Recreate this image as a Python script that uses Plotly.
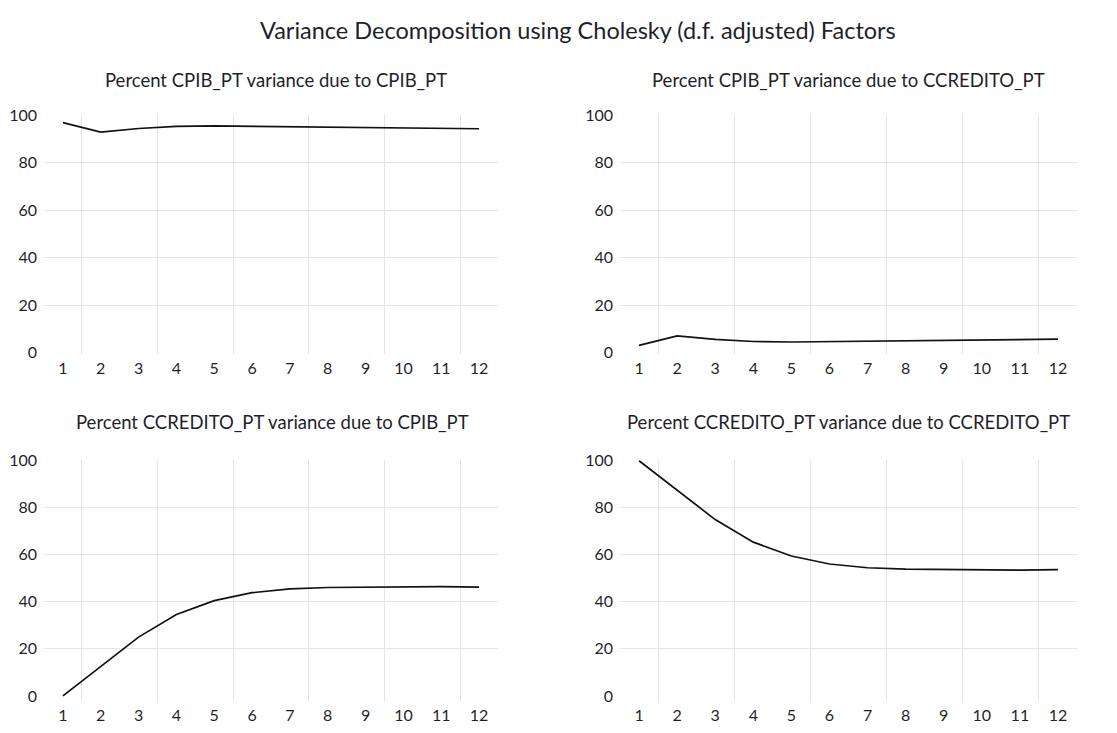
import plotly.graph_objects as go

periods = [1, 2, 3, 4, 5, 6, 7, 8, 9, 10, 11, 12]
tick_labels = [str(p) for p in periods]

cpib_due_cpib = [97.0, 93.0, 94.5, 95.4, 95.6, 95.4, 95.1, 94.9, 94.7, 94.6, 94.5, 94.4]
cpib_due_ccredito = [3.0, 7.0, 5.5, 4.6, 4.4, 4.6, 4.9, 5.1, 5.3, 5.4, 5.5, 5.6]
ccredito_due_cpib = [0.0, 12.5, 25.0, 34.6, 40.5, 43.9, 45.5, 46.1, 46.3, 46.4, 46.5, 46.3]
ccredito_due_ccredito = [100.0, 87.5, 75.0, 65.4, 59.5, 56.1, 54.5, 53.9, 53.7, 53.6, 53.5, 53.7]

panel_titles = [
    "Percent CPIB_PT variance due to CPIB_PT",
    "Percent CPIB_PT variance due to CCREDITO_PT",
    "Percent CCREDITO_PT variance due to CPIB_PT",
    "Percent CCREDITO_PT variance due to CCREDITO_PT",
]
main_title = "Variance Decomposition using Cholesky (d.f. adjusted) Factors"

W, H = 1117, 733
FONT = "Lato, 'Open Sans', sans-serif"
TXT = "#1f1f2b"
GRID = "#e4e4e4"

def px_x(a, b):
    return [a / W, b / W]

def px_y(top, bottom):
    return [1 - bottom / H, 1 - top / H]

panels = [
    (cpib_due_cpib, px_x(44, 498), px_y(107, 352), [-0.6, 100.4]),
    (cpib_due_ccredito, px_x(620, 1077), px_y(107, 352), [-0.6, 100.4]),
    (ccredito_due_cpib, px_x(44, 498), px_y(461, 707), [-2.0, 100.2]),
    (ccredito_due_ccredito, px_x(620, 1077), px_y(461, 707), [-2.0, 100.2]),
]

fig = go.Figure()
layout = {}
for i, (vals, xd, yd, yr) in enumerate(panels, start=1):
    xa = "x" if i == 1 else f"x{i}"
    ya = "y" if i == 1 else f"y{i}"
    fig.add_trace(go.Scatter(x=periods, y=vals, mode="lines",
                             line=dict(color="#111111", width=1.7),
                             xaxis=xa, yaxis=ya, showlegend=False,
                             hoverinfo="x+y"))
    layout[f"xaxis{'' if i == 1 else i}"] = dict(
        domain=xd, anchor=ya, range=[0.5, 12.5],
        tickmode="array", tickvals=periods, ticktext=tick_labels,
        showgrid=False, zeroline=False, showline=False, ticks="",
        ticklabelstandoff=3,
        tickfont=dict(family=FONT, size=16, color=TXT),
        minor=dict(tickmode="array", tickvals=[1.5, 3.5, 5.5, 7.5, 9.5, 11.5],
                   showgrid=True, gridcolor=GRID, gridwidth=1, ticks=""),
        fixedrange=True,
    )
    layout[f"yaxis{'' if i == 1 else i}"] = dict(
        domain=yd, anchor=xa, range=yr,
        tickmode="array", tickvals=[0, 20, 40, 60, 80, 100],
        showgrid=False, zeroline=False, showline=False, ticks="",
        ticklabelstandoff=6,
        tickfont=dict(family=FONT, size=16, color=TXT),
        minor=dict(tickmode="array", tickvals=[20, 40, 60, 80],
                   showgrid=True, gridcolor=GRID, gridwidth=1, ticks=""),
        fixedrange=True,
    )

title_pos = [(276, 72), (848, 72), (272, 422), (848, 422)]
annotations = []
for t, (cx, cy) in zip(panel_titles, title_pos):
    annotations.append(dict(text=t, x=cx / W, y=1 - cy / H, xref="paper", yref="paper",
                            xanchor="center", yanchor="middle", showarrow=False,
                            font=dict(family=FONT, size=18.5, color=TXT)))
annotations.append(dict(text=main_title, x=578 / W, y=1 - 20 / H, xref="paper", yref="paper",
                        xanchor="center", yanchor="middle", showarrow=False,
                        font=dict(family=FONT, size=23.5, color=TXT)))

fig.update_layout(**layout)
fig.update_layout(
    width=W, height=H, margin=dict(l=0, r=0, t=0, b=0),
    paper_bgcolor="white", plot_bgcolor="white",
    annotations=annotations, showlegend=False,
)
fig.write_html("out.html")
